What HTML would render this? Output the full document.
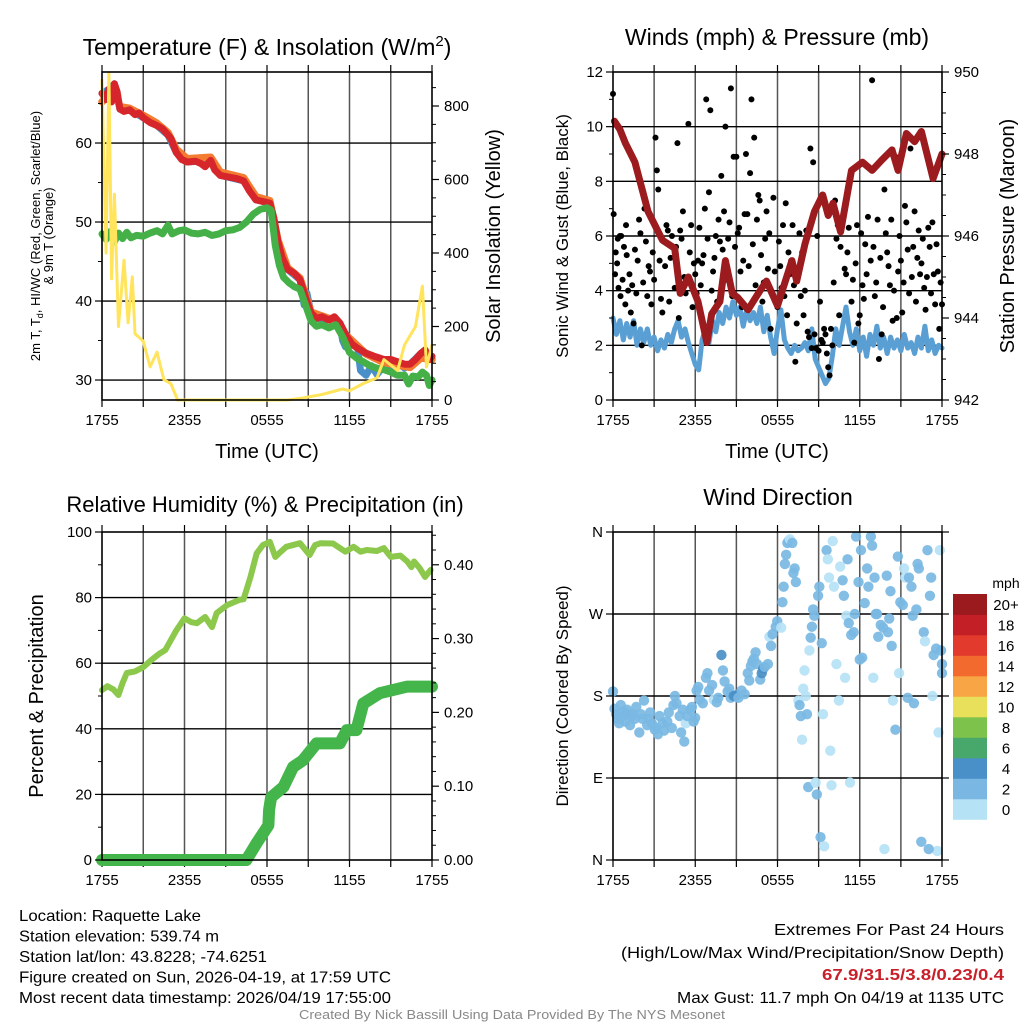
<!DOCTYPE html>
<html><head><meta charset="utf-8"><style>
html,body{margin:0;padding:0;background:#fff}
svg{display:block;font-family:"Liberation Sans",Arial,sans-serif}
</style></head><body>
<svg id="chart" width="1024" height="1024" viewBox="0 0 1024 1024" xmlns="http://www.w3.org/2000/svg">
<rect width="1024" height="1024" fill="#fff"/>
</svg>
<script>
// ---------- DATA ----------
const timeTickLabels = ["1755","2355","0555","1155","1755"];
const airTemp = [[0,66.3],[0.3,65.5],[0.5,66.8],[0.7,65.2],[0.9,67.5],[1.1,66.5],[1.3,64.3],[1.6,64.0],[2.0,64.2],[2.4,63.6],[2.7,63.8],[3.0,63.2],[3.5,62.6],[4.0,62.2],[4.4,61.8],[4.8,61.0],[5.0,60.6],[5.4,58.8],[5.8,57.9],[6.2,57.6],[6.8,57.7],[7.2,57.4],[7.5,57.0],[7.9,57.8],[8.2,56.6],[8.6,55.9],[9.2,55.7],[9.8,55.5],[10.3,55.2],[10.7,54.0],[11.2,52.8],[11.7,52.6],[12.2,52.4],[12.5,50.5],[12.8,47.5],[13.1,45.5],[13.5,44.0],[14.0,43.5],[14.4,42.7],[14.8,40.5],[15.2,38.5],[15.6,37.8],[16.0,38.0],[16.5,37.6],[16.9,38.0],[17.3,37.2],[17.8,35.5],[18.2,34.5],[18.6,34.0],[19.2,33.4],[19.8,33.0],[20.5,32.6],[21.0,32.6],[21.5,32.3],[22.0,32.0],[22.4,32.0],[22.8,32.6],[23.2,33.4],[23.5,33.8],[23.8,32.6],[24,33.0]];
const temp9m = [[0,65.2],[0.5,66.0],[0.9,66.8],[1.3,64.6],[2.0,64.4],[3.0,63.5],[4.0,62.5],[4.8,61.3],[5.4,59.2],[6.2,58.0],[7.9,58.2],[8.6,56.3],[10.3,55.6],[11.2,53.2],[12.2,52.7],[12.8,47.7],[13.5,44.2],[14.4,42.9],[15.2,38.6],[16.5,37.8],[17.8,35.6],[19.2,33.3],[20.5,32.2],[21.5,31.9],[22.4,31.6],[23.2,32.8],[24,32.6]];
const windChill = [[0,66.3],[0.5,66.8],[0.9,67.5],[1.3,64.3],[2.0,64.2],[3.0,63.2],[4.0,62.2],[4.8,61.0],[5.4,58.8],[6.2,57.6],[7.9,57.8],[8.6,55.9],[10.3,55.2],[11.2,52.8],[12.2,52.4],[12.8,47.5],[13.5,44.0],[14.4,42.7],[14.7,39.5],[14.9,41.0],[15.2,38.5],[15.6,37.8],[16.5,37.6],[17.3,37.2],[17.5,35.0],[17.7,34.2],[17.9,35.3],[18.6,34.0],[18.8,31.2],[19.2,30.6],[19.6,31.8],[20.0,30.7],[20.4,31.6],[21.0,31.3],[21.5,32.3],[22.0,31.5],[22.4,32.0],[23.2,33.4],[23.5,33.8],[23.8,32.6],[24,33.0]];
const dewPoint = [[0,48.5],[0.3,47.8],[0.6,48.8],[0.9,47.5],[1.2,48.6],[1.5,47.9],[1.8,48.7],[2.1,48.0],[2.5,48.3],[3.0,48.2],[3.5,48.6],[4.0,48.9],[4.4,48.5],[4.8,49.6],[5.1,48.5],[5.6,48.9],[6.0,49.0],[6.5,48.6],[7.0,48.5],[7.5,48.7],[8.0,48.3],[8.5,48.5],[9.0,48.9],[9.5,49.0],[10.0,49.3],[10.5,50.0],[11.0,51.0],[11.5,51.6],[12.0,51.8],[12.3,51.5],[12.6,47.0],[12.9,44.5],[13.2,43.0],[13.6,42.3],[14.0,41.8],[14.4,41.5],[14.8,39.5],[15.2,37.5],[15.6,36.8],[16.0,37.0],[16.5,36.6],[17.0,37.0],[17.5,35.5],[18.0,33.5],[18.5,32.8],[19.0,32.3],[19.5,31.8],[20.0,31.5],[20.5,31.3],[21.0,31.0],[21.5,30.6],[22.0,30.6],[22.3,29.5],[22.6,30.5],[23.0,30.4],[23.3,31.0],[23.6,30.6],[23.8,29.3],[24,30.0]];
const solar = [[0,870],[0.3,400],[0.5,890],[0.7,330],[0.9,560],[1.2,200],[1.6,380],[1.9,210],[2.2,335],[2.4,180],[3.0,160],[3.5,90],[4.0,130],[4.5,55],[5.0,45],[5.5,0],[13.5,0],[14.5,5],[16.0,15],[17.5,30],[18.0,25],[19.0,45],[20.0,60],[20.5,110],[21.0,95],[21.5,80],[22.0,150],[22.8,200],[23.3,310],[23.6,90],[24,150]];
const pressure = [[0.1,948.8],[0.5,948.6],[0.9,948.27],[1.6,947.8],[2.55,946.6],[3.6,945.9],[4.5,945.7],[4.9,944.6],[5.5,945.0],[6.2,944.4],[6.85,943.4],[7.2,944.1],[7.8,944.4],[8.2,945.4],[8.7,944.6],[9.1,944.5],[9.85,944.2],[10.6,944.6],[11.2,944.9],[12.0,944.3],[13.05,945.4],[13.4,944.9],[14.0,945.8],[14.7,946.6],[15.3,947.0],[15.7,946.5],[16.05,946.8],[16.6,946.1],[17.4,947.6],[18.2,947.8],[18.9,947.6],[19.6,947.85],[20.35,948.1],[20.8,947.6],[21.4,948.5],[22.0,948.3],[22.5,948.55],[23.35,947.4],[24,948.0]];
const sonicWind = [[0,3.0],[0.25,2.4],[0.5,2.9],[0.75,2.2],[1,2.8],[1.25,2.3],[1.5,2.9],[1.75,2.0],[2,2.6],[2.25,2.1],[2.5,2.6],[2.75,2.0],[3,2.3],[3.25,1.8],[3.5,2.2],[3.75,1.9],[4,2.4],[4.25,2.1],[4.5,2.6],[4.75,2.9],[5,2.3],[5.25,2.6],[5.5,2.1],[5.75,1.7],[6,1.3],[6.25,1.1],[6.5,2.2],[6.75,2.6],[7,2.1],[7.25,2.9],[7.5,2.5],[7.75,3.2],[8,2.8],[8.25,3.4],[8.5,3.0],[8.75,3.6],[9,3.1],[9.25,3.4],[9.5,2.7],[9.75,3.3],[10,2.9],[10.25,3.2],[10.5,2.8],[10.75,3.4],[11,2.5],[11.25,3.1],[11.5,2.3],[11.75,1.7],[12,2.6],[12.25,3.3],[12.5,2.2],[12.75,1.9],[13,1.7],[13.25,2.0],[13.5,1.8],[13.75,1.9],[14,2.1],[14.25,1.8],[14.5,2.6],[14.75,1.5],[15,1.2],[15.25,0.9],[15.5,0.6],[15.75,0.8],[16,1.6],[16.25,2.6],[16.5,2.0],[16.75,2.7],[17,3.4],[17.25,2.5],[17.5,2.0],[17.75,2.6],[18,1.8],[18.25,2.3],[18.5,1.6],[18.75,2.4],[19,2.0],[19.25,2.7],[19.5,1.9],[19.75,2.3],[20,1.7],[20.25,2.3],[20.5,1.9],[20.75,2.2],[21,1.8],[21.25,2.4],[21.5,1.9],[21.75,2.1],[22,1.7],[22.25,2.3],[22.5,1.9],[22.75,2.7],[23,1.8],[23.25,2.2],[23.5,1.7],[23.75,2.0],[24,1.9]];
const gusts = [[0,11.2],[0.05,6.8],[0.2,5.4],[0.3,5.0],[0.4,4.1],[0.5,6.0],[0.6,6.0],[0.7,4.4],[0.9,3.5],[1.0,5.3],[1.2,4.6],[1.3,3.2],[1.5,2.8],[1.6,5.5],[1.8,5.1],[2.0,6.1],[2.1,2.0],[2.3,7.0],[2.5,3.8],[2.7,4.7],[2.9,5.4],[3.1,9.6],[3.2,8.4],[3.3,7.7],[3.5,3.7],[3.6,3.2],[3.9,6.4],[4.0,6.2],[4.2,5.2],[4.5,4.1],[4.7,9.4],[4.9,6.2],[5.2,4.5],[5.5,10.1],[5.6,5.4],[5.8,3.4],[6.0,4.6],[6.1,3.9],[6.3,6.3],[6.5,5.0],[6.7,7.0],[6.8,11.0],[7.0,7.6],[7.1,10.6],[7.3,4.7],[7.5,6.0],[7.7,6.6],[7.9,8.2],[8.0,5.5],[8.2,10.0],[8.3,4.4],[8.5,6.5],[8.6,11.4],[8.8,8.9],[9.0,8.9],[9.1,6.1],[9.3,4.7],[9.5,5.1],[9.7,9.0],[10.0,8.3],[10.1,11.0],[10.3,9.6],[10.5,6.6],[10.7,7.3],[10.8,5.3],[11.0,4.3],[11.2,6.9],[11.5,2.6],[11.7,7.4],[12.0,3.4],[12.2,4.9],[12.4,6.4],[12.6,7.2],[12.7,3.1],[12.9,4.6],[13.1,6.4],[13.3,1.4],[13.5,4.8],[13.7,3.8],[14.1,6.2],[14.4,9.2],[14.6,8.7],[14.9,6.0],[15.1,3.6],[15.2,2.2],[15.4,2.6],[15.6,1.7],[15.8,0.9],[16.0,2.0],[16.2,7.3],[16.4,6.4],[16.6,5.6],[16.9,4.8],[17.1,5.4],[17.4,3.6],[17.6,2.1],[17.8,6.4],[18.0,3.1],[18.2,4.2],[18.4,5.7],[18.6,6.7],[18.9,11.7],[19.0,5.6],[19.2,4.3],[19.4,1.5],[19.6,2.4],[19.8,7.7],[20.0,5.4],[20.2,4.2],[20.4,2.9],[20.6,8.9],[20.9,6.0],[21.1,3.2],[21.3,7.1],[21.5,5.5],[21.7,9.2],[21.9,5.6],[22.1,3.6],[22.3,6.2],[22.5,5.0],[22.7,4.1],[22.9,4.5],[23.1,5.6],[23.3,6.5],[23.5,3.5],[23.7,4.7],[23.9,4.3],[24.0,3.5],[0.8,5.6],[1.4,4.2],[2.6,4.9],[3.7,5.8],[5.0,5.9],[6.6,5.3],[7.8,5.8],[9.8,6.8],[11.3,4.8],[12.8,5.4],[13.9,3.1],[14.3,2.3],[14.8,1.9],[15.3,2.1],[17.0,4.6],[20.8,4.7],[22.2,5.2],[23.2,3.9],
[0.15,4.6],[0.35,5.9],[0.55,3.8],[0.95,6.4],[1.1,4.0],[1.7,3.9],[1.9,6.6],[2.2,4.3],[2.4,5.8],[2.8,3.5],[3.0,4.4],[3.4,5.1],[3.8,4.9],[4.1,3.6],[4.3,6.0],[4.6,5.6],[4.8,3.0],[5.1,6.9],[5.3,3.9],[5.7,6.4],[5.9,5.0],[6.2,5.1],[6.4,4.2],[6.9,5.9],[7.2,4.0],[7.4,5.2],[7.6,3.6],[8.1,6.9],[8.4,5.9],[8.7,3.8],[8.9,5.6],[9.2,6.3],[9.4,3.4],[9.6,6.8],[9.9,4.9],[10.2,5.7],[10.4,4.2],[10.6,7.5],[10.9,3.6],[11.1,5.9],[11.4,6.1],[11.6,3.9],[11.8,4.7],[12.1,5.8],[12.3,4.1],[12.5,3.8],[13.0,5.1],[13.2,4.2],[13.4,2.8],[13.6,6.1],[13.8,5.4],[14.0,4.0],[14.2,2.5],[14.5,1.9],[14.7,2.4],[15.0,1.8],[15.5,2.4],[15.7,1.2],[15.9,2.6],[16.1,4.3],[16.3,5.9],[16.5,3.1],[16.8,6.7],[17.2,6.3],[17.5,4.4],[17.7,5.0],[17.9,2.8],[18.1,6.1],[18.3,3.7],[18.5,4.6],[18.8,5.1],[19.1,3.8],[19.3,6.6],[19.5,5.2],[19.7,3.4],[19.9,6.1],[20.1,4.9],[20.3,6.6],[20.5,4.0],[20.7,3.0],[21.0,5.1],[21.2,4.3],[21.4,6.5],[21.6,3.9],[21.8,4.5],[22.0,6.9],[22.4,4.6],[22.6,5.9],[22.8,3.3],[23.0,6.3],[23.4,4.6],[23.6,5.7],[23.8,2.6]];
const relHum = [[0,51.8],[0.4,53],[0.82,52],[1.19,50.3],[1.5,54],[1.8,57],[2.4,57.5],[3.0,58.8],[3.6,61],[4.2,63.0],[4.6,64],[5.0,67],[5.4,70],[6.0,73.7],[6.5,72.5],[6.9,72.2],[7.5,74.1],[8.0,71.0],[8.34,75.3],[9.1,77.7],[10.0,79.3],[10.3,79.5],[10.8,86.3],[11.25,93.5],[11.7,96],[12.2,97],[12.6,92.4],[13.0,94],[13.4,95.5],[14.4,96.6],[15.1,93],[15.5,96],[15.9,96.6],[16.8,96.5],[17.7,94],[18.3,95.5],[18.8,94],[19.25,94.5],[20.0,94.2],[20.5,95.1],[21.0,92.4],[21.7,92.8],[22.2,91],[22.5,89.3],[22.7,91],[23.1,89],[23.5,86.3],[23.9,88.4]];
const precip = [[0,0],[10.5,0],[11.25,0.023],[12.1,0.047],[12.15,0.068],[12.3,0.085],[13.2,0.099],[13.9,0.126],[14.6,0.135],[15.6,0.158],[17.3,0.158],[17.8,0.176],[18.5,0.176],[19.0,0.212],[20.2,0.226],[22.2,0.235],[24,0.235]];
// wind direction observations: [hour, direction deg (0=N,90=E,180=S,270=W), speed mph]
const windDir = [[0,185,3],[0.11,166,2.5],[0.23,160,2.5],[0.34,155,2.5],[0.45,150,2.5],[0.57,170,2.5],[0.68,158,2.5],[0.79,163,2.5],[0.9,152,2.5],[1.02,165,2.5],[1.13,160,2.5],[1.24,148,2.5],[1.36,158,2.5],[1.47,160,2.5],[1.58,155,2.5],[1.7,168,2.5],[1.92,140,2.5],[2.03,160,2.5],[2.15,155,2.5],[2.26,175,2.5],[2.49,148,2.5],[2.6,155,2.5],[2.71,162,2.5],[2.83,150,2.5],[3.05,143,2.5],[3.16,145,2.5],[3.28,138,2.5],[3.39,158,2.5],[3.62,150,2.5],[3.73,142,2.5],[3.96,152,2.5],[4.07,162,2.5],[4.29,145,2.5],[4.41,170,2.5],[4.52,180,2.5],[4.63,172,2.5],[4.86,158,2.5],[4.97,140,2.5],[5.09,165,2.5],[5.2,130,2.5],[5.31,150,1.5],[5.42,158,2.5],[5.65,165,2.5],[5.76,168,2.5],[5.88,152,2.5],[5.99,156,2.5],[6.1,186,2.5],[6.22,190,2.5],[6.33,176,2.5],[6.55,172,2.5],[6.78,200,2.5],[6.89,205,2.5],[7.01,186,2.5],[7.23,192,2.5],[7.35,176,1.5],[7.57,173,2.5],[7.68,178,2.5],[7.91,225,4.5],[8.02,208,2.5],[8.14,196,2.5],[8.36,185,2.5],[8.48,188,2.5],[8.59,178,2.5],[8.81,180,4],[9.04,181,4],[9.15,178,2.5],[9.38,186,2.5],[9.61,182,2.5],[9.83,205,2.5],[9.94,197,2.5],[10.06,213,2.5],[10.17,218,2.5],[10.28,221,2.5],[10.4,228,2.5],[10.51,215,2.5],[10.74,198,2.5],[10.85,205,4],[10.96,210,4.5],[11.07,212,2.5],[11.3,215,2.5],[11.41,245,1.5],[11.53,235,2.5],[11.64,248,2.5],[11.87,256,2.5],[11.98,262,2.5],[12.27,255,1.5],[12.36,283,2.5],[12.45,300,2.5],[12.54,325,2.5],[12.63,335,2.5],[12.72,348,2.5],[12.81,350,2.5],[12.9,352,1.5],[13.08,348,2.5],[13.16,315,2.5],[13.25,320,2.5],[13.34,305,2.5],[13.52,175,1.5],[13.61,170,2.5],[13.7,158,2.5],[13.79,132,1.5],[13.88,188,1.5],[13.97,208,1.5],[14.06,180,1.5],[14.15,160,2.5],[14.24,80,2.5],[14.33,230,1.5],[14.42,244,2.5],[14.51,256,2.5],[14.6,275,2.5],[14.69,268,2.5],[14.78,85,1.5],[14.87,72,2.5],[14.96,290,2.5],[15.05,300,2.5],[15.14,25,2.5],[15.23,238,2.5],[15.32,160,1.5],[15.4,15,1.5],[15.58,340,2.5],[15.67,330,1.5],[15.76,310,1.5],[15.85,120,1.5],[15.94,82,1.5],[16.03,350,1.5],[16.12,300,1.5],[16.3,215,1.5],[16.48,175,1.5],[16.57,322,1.5],[16.75,307,2.5],[16.84,290,2.5],[16.93,200,1.5],[17.02,268,1.5],[17.2,260,2.5],[17.29,85,1.5],[17.38,247,2.5],[17.56,250,2.5],[17.64,270,2.5],[17.73,355,2.5],[17.91,305,2.5],[18.09,340,2.5],[18.18,222,2.5],[18.36,282,2.5],[18.54,320,2.5],[18.63,300,2.5],[18.81,355,2.5],[18.9,345,2.5],[18.99,200,1.5],[19.08,310,2.5],[19.17,270,2.5],[19.35,245,2.5],[19.53,258,2.5],[19.71,255,2.5],[19.8,12,1.5],[19.97,312,2.5],[20.06,250,2.5],[20.15,265,2.5],[20.33,235,2.5],[20.42,175,1.5],[20.6,143,2.5],[20.78,333,2.5],[20.87,205,1.5],[20.96,283,2.5],[21.14,280,2.5],[21.23,320,1.5],[21.32,310,1.5],[21.5,178,2.5],[21.59,310,2.5],[21.77,300,2.5],[21.95,172,2.5],[22.13,275,2.5],[22.22,325,2.5],[22.31,320,2.5],[22.49,20,2.5],[22.67,250,2.5],[22.76,240,1.5],[22.94,340,2.5],[23.12,290,2.5],[23.21,310,2.5],[23.3,180,1.5],[23.39,225,2.5],[23.57,232,2.5],[23.75,140,1.5],[23.84,340,1.5],[23.93,230,2.5],[24.0,205,2.5],[24.0,215,2.5],[23.66,10,1.5],[23.03,12,2.5],[21.86,268,2.5],[20.24,295,2.5],[19.26,270,2.5],[18.0,220,2.5],[17.11,330,2.5]];
const speedLabels = ["0","2","4","6","8","10","12","14","16","18","20+"];
const speedColors = ["#b6e2f6","#7ab8e3","#4a90c8","#48a86b","#7dc24b","#e8e05a","#f8a645","#f26a2d","#e23a2c","#c21f26","#9a1a1e"];

// ---------- HELPERS ----------
const NS = "http://www.w3.org/2000/svg";
const svg = document.getElementById('chart');
function el(tag, attrs, name, parent){
  const e = document.createElementNS(NS, tag);
  for (const k in attrs) e.setAttribute(k, attrs[k]);
  
  
  (parent || svg).appendChild(e);
  return e;
}
function txt(x, y, s, size, anchor, name, extra){
  const a = {x:x, y:y, 'font-size':size, 'text-anchor':anchor||'start', fill:'#000'};
  if (extra) for (const k in extra) a[k] = extra[k];
  const t = el('text', a, name);
  t.textContent = s;
  return t;
}
function panel(x0,y0,x1,y1,lmin,lmax,rmin,rmax){
  return {x0,y0,x1,y1,
    x:h=>x0+(x1-x0)*h/24,
    yl:v=>y1-(v-lmin)/(lmax-lmin)*(y1-y0),
    yr:v=>y1-(v-rmin)/(rmax-rmin)*(y1-y0)};
}
function grid(p, hVals, name){
  const g = el('g', {}, name+'-grid');
  for (let h=3; h<24; h+=3){
    el('line',{x1:p.x(h),x2:p.x(h),y1:p.y0,y2:p.y1,stroke:'#555','stroke-width':1.5},'vertical-gridline',g);
  }
  hVals.forEach(v=>{
    el('line',{x1:p.x0,x2:p.x1,y1:p.yl(v),y2:p.yl(v),stroke:'#000','stroke-width':1.4},'horizontal-gridline',g);
  });
  for (let h=0; h<=24; h+=3){
    el('line',{x1:p.x(h),x2:p.x(h),y1:p.y1,y2:p.y1+7,stroke:'#000','stroke-width':1.2},'x-tick',g);
    el('line',{x1:p.x(h),x2:p.x(h),y1:p.y0,y2:p.y0-7,stroke:'#000','stroke-width':1.2},'x-tick-top',g);
  }
  timeTickLabels.forEach((s,i)=>{
    txt(p.x(i*6), p.y1+25, s, 15, 'middle', 'x-tick-label');
  });
}
function frame(p,name){
  el('rect',{x:p.x0,y:p.y0,width:p.x1-p.x0,height:p.y1-p.y0,fill:'none',stroke:'#000','stroke-width':1.6},name+'-frame');
}
function leftTicks(p, majors, minors, labels, name){
  majors.forEach((v,i)=>{
    el('line',{x1:p.x0-7,x2:p.x0,y1:p.yl(v),y2:p.yl(v),stroke:'#000','stroke-width':1.2},name+'-tick');
    txt(p.x0-10, p.yl(v)+5, labels[i], 15, 'end', name+'-tick-label');
  });
  minors.forEach(v=>el('line',{x1:p.x0-4,x2:p.x0,y1:p.yl(v),y2:p.yl(v),stroke:'#000','stroke-width':1},name+'-minor-tick'));
}
function rightTicks(p, majors, minors, labels, name){
  majors.forEach((v,i)=>{
    el('line',{x1:p.x1,x2:p.x1+7,y1:p.yr(v),y2:p.yr(v),stroke:'#000','stroke-width':1.2},name+'-tick');
    txt(p.x1+12, p.yr(v)+5, labels[i], 15, 'start', name+'-tick-label');
  });
  minors.forEach(v=>el('line',{x1:p.x1,x2:p.x1+4,y1:p.yr(v),y2:p.yr(v),stroke:'#000','stroke-width':1},name+'-minor-tick'));
}
function line(p, data, useRight, color, w, name){
  const d = data.map((pt,i)=>(i?'L':'M')+p.x(pt[0]).toFixed(1)+','+(useRight?p.yr(pt[1]):p.yl(pt[1])).toFixed(1)).join('');
  return el('path',{d:d,fill:'none',stroke:color,'stroke-width':w,'stroke-linejoin':'round','stroke-linecap':'round'},name);
}
function range(a,b,s){const r=[];for(let v=a;v<=b+1e-9;v+=s)r.push(+v.toFixed(4));return r;}

// ---------- PANEL 1: Temperature ----------
const p1 = panel(102,72,432,400, 27.47,68.99, 0,892.5);
grid(p1,[30,40,50,60],'temperature');
line(p1, windChill, false, '#4a90c8', 7, 'wind-chill-line');
line(p1, temp9m, false, '#f47c30', 7.5, 'temp-9m-line');
line(p1, airTemp, false, '#d7262b', 7, 'air-temp-line');
line(p1, dewPoint, false, '#44b047', 7, 'dewpoint-line');
line(p1, solar, true, '#ffe45c', 3, 'solar-insolation-line');
frame(p1,'temperature');
leftTicks(p1,[30,40,50,60],[35,45,55,65],['30','40','50','60'],'temp-y');
rightTicks(p1,[0,200,400,600,800],range(50,850,50),['0','200','400','600','800'],'solar-y');
{const t = txt(267,55,'Temperature (F) & Insolation (W/m',23,'middle','temperature-title');
 const s=document.createElementNS(NS,'tspan');s.setAttribute('dy','-9');s.setAttribute('font-size','15');s.textContent='2';t.appendChild(s);
 const s2=document.createElementNS(NS,'tspan');s2.setAttribute('dy','9');s2.textContent=')';t.appendChild(s2);}
txt(267,458,'Time (UTC)',20,'middle','temperature-x-title');
{const t = txt(0,0,'2m T, T',13,'middle','temperature-y-title',{transform:'translate(40,236) rotate(-90)'});
 const s=document.createElementNS(NS,'tspan');s.setAttribute('font-size','9');s.setAttribute('dy','3');s.textContent='d';t.appendChild(s);
 const s2=document.createElementNS(NS,'tspan');s2.setAttribute('dy','-3');s2.textContent=', HI/WC (Red, Green, Scarlet/Blue)';t.appendChild(s2);}
txt(0,0,'& 9m T (Orange)',13,'middle','temperature-y-title-line2',{transform:'translate(53,236) rotate(-90)'});
txt(0,0,'Solar Insolation (Yellow)',20,'middle','solar-y-title',{transform:'translate(500,236) rotate(-90)'});

// ---------- PANEL 2: Winds ----------
const p2 = panel(613,72,942,400, 0,12, 942,950);
grid(p2,[2,4,6,8,10],'winds');
line(p2, sonicWind, false, '#5a9fd4', 5, 'sonic-wind-line');
{const g = el('g',{},'gust-points');
 gusts.forEach(pt=>el('circle',{cx:p2.x(pt[0]),cy:p2.yl(pt[1]),r:3,fill:'#000'},'gust-point',g));}
line(p2, pressure, true, '#9b1b1e', 7, 'pressure-line');
frame(p2,'winds');
leftTicks(p2,[0,2,4,6,8,10,12],[1,3,5,7,9,11],['0','2','4','6','8','10','12'],'wind-y');
rightTicks(p2,[942,944,946,948,950],range(942.5,949.5,0.5).filter(v=>v%2!==0),['942','944','946','948','950'],'pressure-y');
txt(777,45,'Winds (mph) & Pressure (mb)',23,'middle','winds-title');
txt(777,458,'Time (UTC)',20,'middle','winds-x-title');
txt(0,0,'Sonic Wind & Gust (Blue, Black)',17,'middle','wind-y-title',{transform:'translate(568,236) rotate(-90)'});
txt(0,0,'Station Pressure (Maroon)',20,'middle','pressure-y-title',{transform:'translate(1014,236) rotate(-90)'});

// ---------- PANEL 3: RH & Precip ----------
const p3 = panel(102,532,432,860, 0,100, 0,0.4444);
grid(p3,[20,40,60,80],'humidity');
line(p3, relHum, false, '#8cc84b', 6, 'relative-humidity-line');
line(p3, precip, true, '#44b54a', 12, 'precipitation-line');
frame(p3,'humidity');
leftTicks(p3,[0,20,40,60,80,100],[10,30,50,70,90],['0','20','40','60','80','100'],'rh-y');
rightTicks(p3,[0,0.1,0.2,0.3,0.4],[0.02,0.04,0.06,0.08,0.12,0.14,0.16,0.18,0.22,0.24,0.26,0.28,0.32,0.34,0.36,0.38,0.42,0.44],['0.00','0.10','0.20','0.30','0.40'],'precip-y');
txt(265,512,'Relative Humidity (%) & Precipitation (in)',22,'middle','humidity-title');
txt(0,0,'Percent & Precipitation',20,'middle','rh-y-title',{transform:'translate(43,696) rotate(-90)'});

// ---------- PANEL 4: Wind direction ----------
const p4 = panel(613,532,942,860, 0,360, 0,360);
grid(p4,[90,180,270],'wind-direction');
{const g = el('g',{},'wind-direction-points');
 windDir.forEach(pt=>{
   const ci = Math.min(10, Math.floor(pt[2]/2));
   el('circle',{cx:p4.x(pt[0]),cy:p4.yl(pt[1]),r:5.2,fill:speedColors[ci],'fill-opacity':0.92},'wind-direction-point',g);
 });}
frame(p4,'wind-direction');
leftTicks(p4,[0,90,180,270,360],[],['N','E','S','W','N'],'dir-y');
[0,90,180,270,360].forEach(v=>el('line',{x1:p4.x1,x2:p4.x1+7,y1:p4.yl(v),y2:p4.yl(v),stroke:'#000','stroke-width':1.2},'dir-right-tick'));
txt(778,505,'Wind Direction',23,'middle','wind-direction-title');
txt(0,0,'Direction (Colored By Speed)',17,'middle','dir-y-title',{transform:'translate(568,696) rotate(-90)'});
txt(1006,588,'mph',14,'middle','colorbar-title');
speedColors.forEach((c,i)=>{
  const k = 10-i;
  const y = 594 + k*20.5;
  el('rect',{x:953,y:y,width:34,height:20.8,fill:c},'colorbar-swatch');
  txt(1006,y+16,speedLabels[i],15,'middle','colorbar-label');
});

// ---------- FOOTER ----------
const footLeft = ["Location: Raquette Lake","Station elevation: 539.74 m","Station lat/lon: 43.8228; -74.6251","Figure created on Sun, 2026-04-19, at 17:59 UTC","Most recent data timestamp: 2026/04/19 17:55:00"];
const footLeftW = [182,200,248,372,372];
footLeft.forEach((s,i)=>txt(19,921+i*20.5,s,16,'start','station-info-line',{textLength:footLeftW[i],lengthAdjust:'spacingAndGlyphs'}));
txt(1004,935,'Extremes For Past 24 Hours',16,'end','extremes-heading',{textLength:230,lengthAdjust:'spacingAndGlyphs'});
txt(1004,958,'(High/Low/Max Wind/Precipitation/Snow Depth)',16,'end','extremes-subheading',{textLength:383,lengthAdjust:'spacingAndGlyphs'});
txt(1004,980,'67.9/31.5/3.8/0.23/0.4',16,'end','extremes-values',{fill:'#c8202a','font-weight':'bold',textLength:182,lengthAdjust:'spacingAndGlyphs'});
txt(1004,1003,'Max Gust: 11.7 mph On 04/19 at 1135 UTC',16,'end','max-gust',{textLength:327,lengthAdjust:'spacingAndGlyphs'});
txt(512,1019,'Created By Nick Bassill Using Data Provided By The NYS Mesonet',13,'middle','credit',{fill:'#888',textLength:426,lengthAdjust:'spacingAndGlyphs'});
</script>
</body></html>
